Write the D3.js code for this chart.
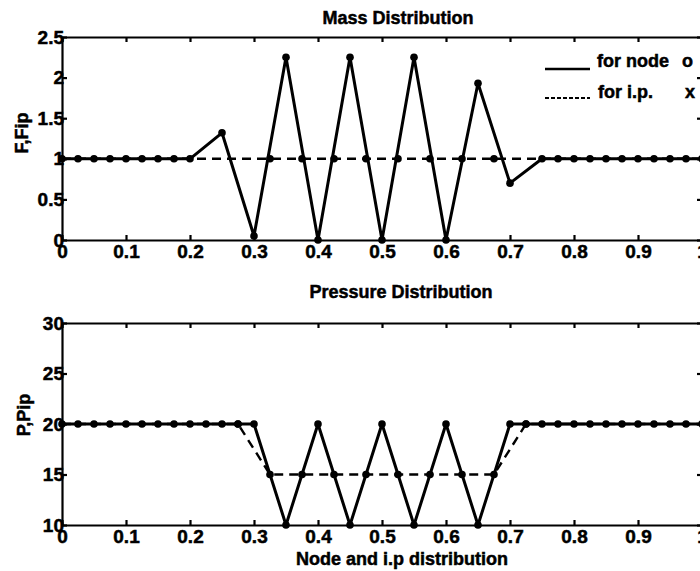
<!DOCTYPE html>
<html>
<head>
<meta charset="utf-8">
<script src="https://cdn.jsdelivr.net/npm/d3@7"></script>
<style>
  body { margin: 0; background: #fff; }
  svg text { font-family: "Liberation Sans", Arial, sans-serif; font-weight: bold; fill: #000; stroke: #000; stroke-width: 0.5px; }
</style>
</head>
<body>
<svg id="chart" width="700" height="571"></svg>
<script>
// node values, mass plot
var massNodeX = [0, 0.025, 0.05, 0.075, 0.1, 0.125, 0.15, 0.175, 0.2,
    0.25, 0.3, 0.35, 0.4, 0.45, 0.5, 0.55, 0.6, 0.65, 0.7, 0.75,
    0.775, 0.8, 0.825, 0.85, 0.875, 0.9, 0.925, 0.95, 0.975, 1];
var massNodeF = [1, 1, 1, 1, 1, 1, 1, 1, 1,
    1.32, 0.05, 2.25, 0, 2.25, 0, 2.25, 0, 1.93, 0.7, 1,
    1, 1, 1, 1, 1, 1, 1, 1, 1, 1];
// integration points, mass plot
var massIpX = [0, 0.325, 0.375, 0.425, 0.475, 0.525, 0.575, 0.625, 0.675, 1];
var massIpF = [1, 1, 1, 1, 1, 1, 1, 1, 1, 1];

// node values, pressure plot
var presNodeX = [0, 0.025, 0.05, 0.075, 0.1, 0.125, 0.15, 0.175, 0.2, 0.225, 0.25, 0.275, 0.3,
    0.35, 0.4, 0.45, 0.5, 0.55, 0.6, 0.65, 0.7,
    0.725, 0.75, 0.775, 0.8, 0.825, 0.85, 0.875, 0.9, 0.925, 0.95, 0.975, 1];
var presNodeP = [20, 20, 20, 20, 20, 20, 20, 20, 20, 20, 20, 20, 20,
    10, 20, 10, 20, 10, 20, 10, 20,
    20, 20, 20, 20, 20, 20, 20, 20, 20, 20, 20, 20];
// integration points, pressure plot
var presIpX = [0, 0.275, 0.325, 0.375, 0.425, 0.475, 0.525, 0.575, 0.625, 0.675, 0.725, 1];
var presIpP = [20, 20, 15, 15, 15, 15, 15, 15, 15, 15, 20, 20];

var xTicks = [0, 0.1, 0.2, 0.3, 0.4, 0.5, 0.6, 0.7, 0.8, 0.9, 1];
var massTicks = [0, 0.5, 1, 1.5, 2, 2.5];
var presTicks = [10, 15, 20, 25, 30];

(function() {

    var svg = d3.select("#chart");

    var x = d3.scaleLinear().domain([0, 1]).range([62, 702]);

    function drawPanel(opt) {
        var y = d3.scaleLinear().domain(opt.yDomain).range([opt.bottom, opt.top]);
        var g = svg.append("g");

        // bottom axis with labels
        g.append("g")
            .attr("transform", "translate(0," + opt.bottom + ")")
            .call(d3.axisBottom(x).tickValues(xTicks).tickSize(-5).tickSizeOuter(0).tickPadding(5)
                .tickFormat(function(d) { return d === 0 ? "0" : d === 1 ? "1" : d3.format(".1f")(d); }));
        // top axis, ticks only
        g.append("g")
            .attr("transform", "translate(0," + opt.top + ")")
            .call(d3.axisTop(x).tickValues(xTicks).tickSize(-5).tickSizeOuter(0).tickFormat(""));
        // left axis
        g.append("g")
            .attr("transform", "translate(" + x(0) + ",0)")
            .call(d3.axisLeft(y).tickValues(opt.ticks).tickSize(-5).tickSizeOuter(0).tickPadding(-2)
                .tickFormat(function(d) { return String(d); }));
        // right axis
        g.append("g")
            .attr("transform", "translate(" + x(1) + ",0)")
            .call(d3.axisRight(y).tickValues(opt.ticks).tickSize(-5).tickSizeOuter(0).tickFormat(""));

        g.selectAll(".domain, .tick line").attr("stroke", "#000").attr("stroke-width", 2.2);
        g.selectAll(".tick text").attr("font-size", 19).attr("font-family", null).attr("fill", "#000");

        var line = d3.line()
            .x(function(d) { return x(d[0]); })
            .y(function(d) { return y(d[1]); });

        var ip = d3.zip(opt.ipX, opt.ipY);
        var node = d3.zip(opt.nodeX, opt.nodeY);

        g.append("path")
            .datum(ip)
            .attr("d", line)
            .attr("fill", "none")
            .attr("stroke", "#000")
            .attr("stroke-width", 2.4)
            .attr("stroke-dasharray", "9,6");

        g.append("path")
            .datum(node)
            .attr("d", line)
            .attr("fill", "none")
            .attr("stroke", "#000")
            .attr("stroke-width", 3)
            .attr("stroke-linejoin", "round");

        g.selectAll(".ipdot")
            .data(ip.slice(1, -1))
            .enter()
            .append("circle")
            .attr("cx", function(d) { return x(d[0]); })
            .attr("cy", function(d) { return y(d[1]); })
            .attr("r", 3.8);

        g.selectAll(".nodedot")
            .data(node)
            .enter()
            .append("circle")
            .attr("cx", function(d) { return x(d[0]); })
            .attr("cy", function(d) { return y(d[1]); })
            .attr("r", 3.8);

        // title and y label
        svg.append("text")
            .attr("x", opt.titleX).attr("y", opt.titleY)
            .attr("text-anchor", "middle")
            .attr("font-size", 18)
            .text(opt.title);

        svg.append("text")
            .attr("transform", "translate(" + opt.labelX + "," + opt.labelY + ") rotate(-90)")
            .attr("text-anchor", "middle")
            .attr("font-size", 18)
            .text(opt.yLabel);

        return y;
    }

    drawPanel({
        top: 37, bottom: 240, yDomain: [0, 2.5], ticks: massTicks,
        nodeX: massNodeX, nodeY: massNodeF, ipX: massIpX, ipY: massIpF,
        title: "Mass Distribution", titleX: 398, titleY: 24,
        yLabel: "F,Fip", labelX: 28, labelY: 133
    });

    drawPanel({
        top: 323, bottom: 525, yDomain: [10, 30], ticks: presTicks,
        nodeX: presNodeX, nodeY: presNodeP, ipX: presIpX, ipY: presIpP,
        title: "Pressure Distribution", titleX: 401, titleY: 298,
        yLabel: "P,Pip", labelX: 30, labelY: 415
    });

    svg.append("text")
        .attr("x", 402).attr("y", 565)
        .attr("text-anchor", "middle")
        .attr("font-size", 18)
        .text("Node and i.p distribution");

    // legend (top panel)
    var legend = svg.append("g");
    legend.append("line")
        .attr("x1", 545).attr("x2", 590).attr("y1", 69).attr("y2", 69)
        .attr("stroke", "#000").attr("stroke-width", 2.4);
    legend.append("line")
        .attr("x1", 545).attr("x2", 590).attr("y1", 98).attr("y2", 98)
        .attr("stroke", "#000").attr("stroke-width", 1.8).attr("stroke-dasharray", "4,2");
    legend.append("text").attr("x", 597).attr("y", 67).attr("font-size", 18).text("for node");
    legend.append("text").attr("x", 682).attr("y", 67).attr("font-size", 18).text("o");
    legend.append("text").attr("x", 598).attr("y", 98).attr("font-size", 18).text("for i.p.");
    legend.append("text").attr("x", 685).attr("y", 98).attr("font-size", 18).text("x");

})();
</script>
</body>
</html>
